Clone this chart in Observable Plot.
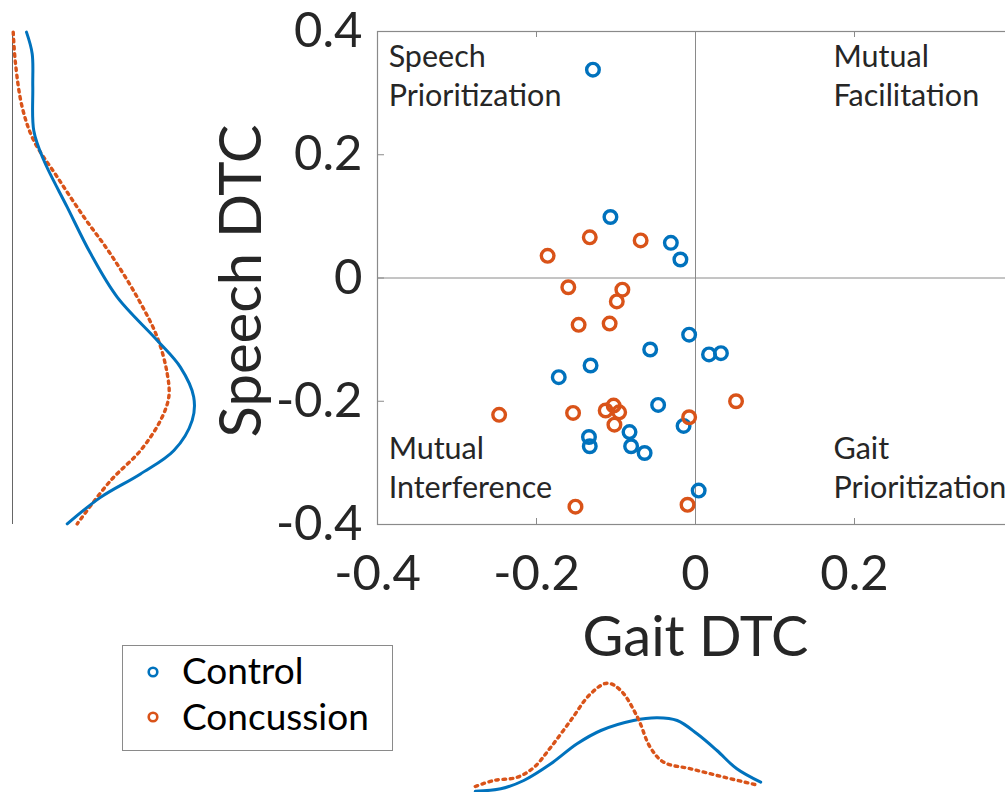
<!DOCTYPE html>
<html>
<head>
<meta charset="utf-8">
<script src="https://cdn.jsdelivr.net/npm/d3@7"></script>
<script src="https://cdn.jsdelivr.net/npm/@observablehq/plot@0.6"></script>
<style>
  html, body { margin: 0; padding: 0; background: #fff; }
  #wrap { position: relative; width: 1005px; height: 792px; overflow: hidden; font-family: Lato, "Open Sans", sans-serif; }
  #wrap > svg, #wrap > div { position: absolute; }
</style>
</head>
<body>
<div id="wrap"></div>
<script>
// ---- Data ----
const groups = ["Control", "Concussion"];
const groupColors = ["#0072BD", "#D95319"];

const controlGait   = [-0.129, -0.107, -0.031, -0.019, -0.008, -0.057, 0.017, 0.032, -0.132, -0.172, -0.047, -0.015, -0.134, -0.133, -0.083, -0.081, -0.064, 0.004];
const controlSpeech = [0.338, 0.099, 0.057, 0.030, -0.092, -0.116, -0.124, -0.122, -0.142, -0.161, -0.206, -0.240, -0.258, -0.273, -0.250, -0.273, -0.284, -0.345];
const concussionGait   = [-0.133, -0.069, -0.186, -0.160, -0.092, -0.099, -0.147, -0.108, -0.247, -0.154, -0.113, -0.103, -0.096, -0.102, 0.051, -0.008, -0.151, -0.010];
const concussionSpeech = [0.066, 0.061, 0.036, -0.015, -0.019, -0.038, -0.076, -0.074, -0.222, -0.219, -0.215, -0.207, -0.218, -0.238, -0.200, -0.226, -0.371, -0.368];

// Speech DTC marginal density (left panel)
const speechDensY       = [0.399, 0.364, 0.310, 0.239, 0.191, 0.115, 0.040, -0.031, -0.101, -0.145, -0.193, -0.231, -0.280, -0.318, -0.356, -0.399];
const speechDensControl = [0.233, 0.328, 0.338, 0.355, 0.522, 0.912, 1.30, 1.745, 2.41, 2.80, 3.02, 2.995, 2.69, 2.133, 1.467, 0.912];
const speechDensYC          = [0.399, 0.348, 0.277, 0.223, 0.164, 0.099, 0.039, -0.031, -0.096, -0.155, -0.193, -0.231, -0.280, -0.329, -0.399];
const speechDensConcussion  = [0.012, 0.05, 0.162, 0.355, 0.745, 1.19, 1.633, 2.078, 2.412, 2.578, 2.605, 2.467, 2.133, 1.633, 1.078];

// Gait DTC marginal density (bottom panel)
const gaitDensX       = [-0.277, -0.245, -0.216, -0.182, -0.149, -0.119, -0.078, -0.048, -0.023, 0.002, 0.027, 0.052, 0.082];
const gaitDensControl = [0.372, 0.468, 0.8, 1.468, 2.268, 2.8, 3.2, 3.308, 3.2, 2.668, 2.0, 1.268, 0.732];
const gaitDensXC          = [-0.277, -0.254, -0.224, -0.203, -0.182, -0.157, -0.132, -0.111, -0.094, -0.073, -0.057, -0.040, -0.006, 0.036, 0.080];
const gaitDensConcussion  = [0.56, 0.8, 0.932, 1.332, 2.132, 3.2, 4.268, 4.692, 4.4, 3.332, 2.132, 1.532, 1.268, 0.932, 0.6];

const xTickLabels = [-0.4, -0.2, 0, 0.2];
const yTickLabels = [-0.4, -0.2, 0, 0.2, 0.4];
const innerTicks = [-0.2, 0, 0.2];

const quadLabels = ["Speech\nPrioritization", "Mutual\nFacilitation", "Mutual\nInterference", "Gait\nPrioritization"];
const quadX = [-0.386, 0.1736, -0.386, 0.1736];
const quadY = [0.3305, 0.3305, -0.3056, -0.3056];

// ---- Build tables ----
const pts = [
  ...controlGait.map((g, i) => ({group: "Control", gait: g, speech: controlSpeech[i]})),
  ...concussionGait.map((g, i) => ({group: "Concussion", gait: g, speech: concussionSpeech[i]}))
];
const quads = quadLabels.map((t, i) => ({t, x: quadX[i], y: quadY[i]}));
const sdC = speechDensY.map((y, i) => ({y, d: speechDensControl[i]}));
const sdK = speechDensYC.map((y, i) => ({y, d: speechDensConcussion[i]}));
const gdC = gaitDensX.map((x, i) => ({x, d: gaitDensControl[i]}));
const gdK = gaitDensXC.map((x, i) => ({x, d: gaitDensConcussion[i]}));

const wrap = document.getElementById("wrap");
const textColor = "#262626";
const frameColor = "#8a8a8a";
const fmt = d => String(d);
const svgStyle = "max-width:none;background:transparent;font-family:Lato,'Open Sans',sans-serif;color:#262626;";
const dotted = "2.6,4.6";

// ---- Main scatter ----
const W = 1013, H = 700, mL = 377, mT = 31, mB = H - 524;
const innerH = H - mT - mB, innerW = W - mL;
const main = Plot.plot({
  width: W, height: H,
  marginLeft: mL, marginRight: 0, marginTop: mT, marginBottom: mB,
  style: svgStyle,
  x: {domain: [-0.4, 0.4]},
  y: {domain: [-0.4, 0.4]},
  color: {domain: groups, range: groupColors},
  marks: [
    Plot.ruleX([0], {stroke: frameColor, strokeWidth: 1}),
    Plot.ruleY([0], {stroke: frameColor, strokeWidth: 1}),
    Plot.frame({stroke: frameColor, strokeWidth: 1.2}),
    Plot.tickX(innerTicks, {x: d => d, insetTop: innerH - 6, stroke: frameColor}),
    Plot.tickX(innerTicks, {x: d => d, insetBottom: innerH - 6, stroke: frameColor}),
    Plot.tickY(innerTicks, {y: d => d, insetRight: innerW - 7, stroke: frameColor}),
    Plot.axisX({ticks: xTickLabels, tickSize: 0, tickPadding: 31, fontSize: 49, tickFormat: fmt, label: null, fill: textColor}),
    Plot.axisY({ticks: yTickLabels, tickSize: 0, tickPadding: 15, fontSize: 49, tickFormat: fmt, label: null, fill: textColor}),
    Plot.text(["Gait DTC"], {frameAnchor: "bottom", dy: 131, lineAnchor: "bottom", textAnchor: "middle", fontSize: 56, fill: textColor}),
    Plot.text(["Speech DTC"], {frameAnchor: "left", dx: -117, dy: 3, rotate: -90, lineAnchor: "bottom", textAnchor: "middle", fontSize: 58, fill: textColor}),
    Plot.text(quads, {x: "x", y: "y", text: "t", textAnchor: "start", lineAnchor: "middle", lineHeight: 1.27, fontSize: 30.5, fill: textColor}),
    Plot.dot(pts, {x: "gait", y: "speech", stroke: "group", r: 6.3, strokeWidth: 3.4, fill: "none"})
  ]
});
main.style.left = "0px"; main.style.top = "0px";
wrap.appendChild(main);

// ---- Left marginal density (Speech DTC) ----
const left = Plot.plot({
  width: 220, height: 540,
  marginLeft: 12, marginRight: 10, marginTop: mT, marginBottom: 540 - 524,
  style: svgStyle,
  x: {domain: [0, 3.3], range: [12, 210], axis: null},
  y: {domain: [-0.4, 0.4], axis: null},
  marks: [
    Plot.ruleX([0], {stroke: "#666", strokeWidth: 1}),
    Plot.line(sdK, {x: "d", y: "y", stroke: groupColors[1], strokeWidth: 3.4, strokeDasharray: dotted, curve: "catmull-rom"}),
    Plot.line(sdC, {x: "d", y: "y", stroke: groupColors[0], strokeWidth: 3, curve: "catmull-rom"})
  ]
});
left.style.left = "0px"; left.style.top = "0px";
wrap.appendChild(left);

// ---- Bottom marginal density (Gait DTC) ----
const bottom = Plot.plot({
  width: W, height: 192,
  marginLeft: mL, marginRight: 0, marginTop: 0, marginBottom: 0,
  style: svgStyle,
  x: {domain: [-0.4, 0.4], range: [mL, W], axis: null},
  y: {domain: [0, 4.8], range: [200, 80], axis: null},
  marks: [
    Plot.line(gdC, {x: "x", y: "d", stroke: groupColors[0], strokeWidth: 3, curve: "catmull-rom"}),
    Plot.line(gdK, {x: "x", y: "d", stroke: groupColors[1], strokeWidth: 3.4, strokeDasharray: dotted, curve: "catmull-rom"})
  ]
});
bottom.style.left = "0px"; bottom.style.top = "600px";
wrap.appendChild(bottom);

// ---- Legend ----
const leg = document.createElement("div");
leg.style.cssText = "left:122px;top:645px;width:269px;height:104px;border:1px solid #8a8a8a;background:#fff;";
const ns = "http://www.w3.org/2000/svg";
const ls = document.createElementNS(ns, "svg");
ls.setAttribute("width", 269); ls.setAttribute("height", 104);
groups.forEach((g, i) => {
  const c = document.createElementNS(ns, "circle");
  c.setAttribute("cx", 30); c.setAttribute("cy", 26 + i * 45);
  c.setAttribute("r", 4.3); c.setAttribute("fill", "none");
  c.setAttribute("stroke", groupColors[i]); c.setAttribute("stroke-width", 2.6);
  ls.appendChild(c);
  const t = document.createElementNS(ns, "text");
  t.setAttribute("x", 59); t.setAttribute("y", 38 + i * 46);
  t.setAttribute("font-size", 37); t.setAttribute("fill", "#000");
  t.setAttribute("font-family", "Lato, 'Open Sans', sans-serif");
  t.textContent = g;
  ls.appendChild(t);
});
leg.appendChild(ls);
wrap.appendChild(leg);
</script>
</body>
</html>
